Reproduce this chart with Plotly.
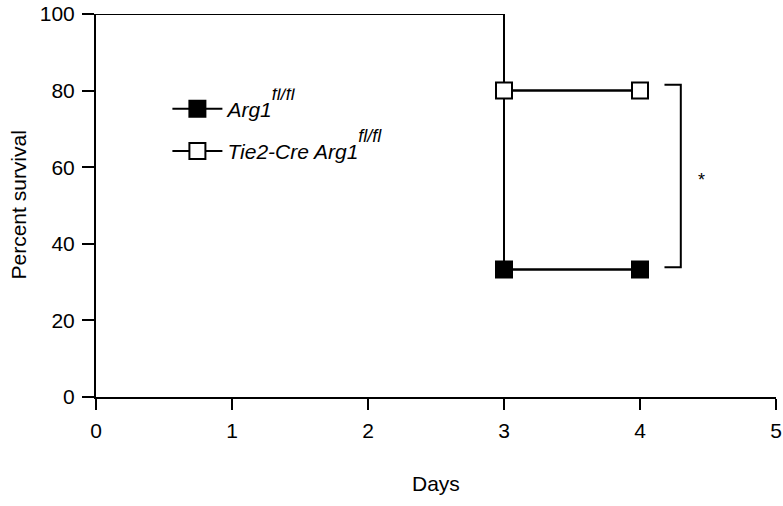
import plotly.graph_objects as go

# Kaplan-Meier survival, percent alive per day
days = [0, 3, 4]
arg1_flfl = [100, 33.3, 33.3]
tie2cre_arg1_flfl = [100, 80, 80]

SUP = '<span style="font-size:18px;baseline-shift:17px">fl/fl</span>'
names = ["<i>Arg1" + SUP + "</i>", "<i>Tie2-Cre Arg1" + SUP + "</i>"]
fills = ["black", "white"]

x_ticks = [0, 1, 2, 3, 4, 5]
y_ticks = [0, 20, 40, 60, 80, 100]

# significance bracket between the two curves at day 4
bracket_x = [4.18, 4.30]
bracket_y = [33.9, 81.5]
star_pos = (4.455, 56.7)

FONT = "Liberation Sans, Arial, sans-serif"

fig = go.Figure()
for i, (series, name, fill) in enumerate(zip([arg1_flfl, tie2cre_arg1_flfl], names, fills)):
    # step curve
    fig.add_trace(go.Scatter(
        x=days, y=series, mode="lines", line=dict(color="black", width=2, shape="hv"),
        showlegend=False, cliponaxis=False, hoverinfo="skip"))
    # markers at the event days
    fig.add_trace(go.Scatter(
        x=days[1:], y=series[1:], mode="lines+markers", name=name,
        legendgroup=f"g{i}",
        line=dict(color="black", width=2),
        marker=dict(symbol="square", size=16, color=fill, line=dict(color="black", width=2)),
        cliponaxis=False))

fig.add_trace(go.Scatter(
    x=[bracket_x[0], bracket_x[1], bracket_x[1], bracket_x[0]],
    y=[bracket_y[1], bracket_y[1], bracket_y[0], bracket_y[0]],
    mode="lines", line=dict(color="black", width=2),
    showlegend=False, cliponaxis=False, hoverinfo="skip"))

fig.add_annotation(x=star_pos[0], y=star_pos[1], text="*", showarrow=False,
                   font=dict(size=18, color="black", family=FONT))

# axis titles
fig.add_annotation(xref="paper", yref="paper", x=0.5, y=-0.225, text="Days",
                   showarrow=False, font=dict(size=21, color="black", family=FONT),
                   xanchor="center", yanchor="middle")
fig.add_annotation(xref="paper", yref="paper", x=-0.1147, y=0.5, text="Percent survival",
                   textangle=-90, showarrow=False,
                   font=dict(size=21, color="black", family=FONT),
                   xanchor="center", yanchor="middle")

fig.update_layout(
    template="none",
    width=783, height=506,
    margin=dict(l=96, r=7, t=14, b=109),
    paper_bgcolor="white", plot_bgcolor="white",
    font=dict(family=FONT, size=21, color="black"),
    showlegend=True,
    legend=dict(x=0.105, y=0.697, xanchor="left", yanchor="middle",
                bgcolor="rgba(0,0,0,0)", font=dict(size=21, family=FONT),
                itemwidth=50, tracegroupgap=12, traceorder="grouped"),
    xaxis=dict(range=[0, 5], tickvals=x_ticks, showline=True, linecolor="black",
               linewidth=2, ticks="outside", ticklen=11, tickwidth=2, tickcolor="black",
               showgrid=False, zeroline=False, tickfont=dict(size=21),
               automargin=False, ticklabelstandoff=3),
    yaxis=dict(range=[0, 100], tickvals=y_ticks, showline=True, linecolor="black",
               linewidth=2, ticks="outside", ticklen=12, tickwidth=2, tickcolor="black",
               showgrid=False, zeroline=False, tickfont=dict(size=21),
               automargin=False, ticklabelstandoff=3),
)

fig.write_html("out.html")
